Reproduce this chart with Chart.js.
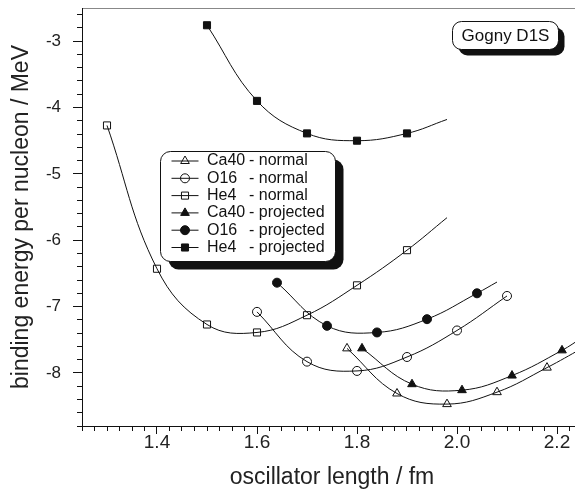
<!DOCTYPE html>
<html>
<head>
<meta charset="utf-8">
<script src="https://cdn.jsdelivr.net/npm/chart.js@4/dist/chart.umd.min.js"></script>
<style>
  html, body { margin: 0; padding: 0; background: #fff; overflow: hidden; }
  canvas { display: block; }
</style>
</head>
<body>
<canvas id="myChart" width="600" height="493"></canvas>
<script>
// oscillator length (fm) and binding energy per nucleon (MeV)
const ca40NormX = [1.78, 1.88, 1.98, 2.08, 2.18];
const ca40NormE = [-7.63, -8.31, -8.47, -8.29, -7.92];
const o16NormX = [1.6, 1.7, 1.8, 1.9, 2.0, 2.1];
const o16NormE = [-7.08, -7.83, -7.97, -7.76, -7.36, -6.84];
const he4NormX = [1.3, 1.4, 1.5, 1.6, 1.7, 1.8, 1.9];
const he4NormE = [-4.27, -6.43, -7.27, -7.39, -7.13, -6.68, -6.15];
const ca40ProjX = [1.81, 1.91, 2.01, 2.11, 2.21];
const ca40ProjE = [-7.63, -8.17, -8.26, -8.04, -7.66];
const o16ProjX = [1.64, 1.74, 1.84, 1.94, 2.04];
const o16ProjE = [-6.64, -7.29, -7.39, -7.19, -6.80];
const he4ProjX = [1.5, 1.6, 1.7, 1.8, 1.9];
const he4ProjE = [-2.76, -3.90, -4.39, -4.50, -4.39];

// where the fitted curves stop past the last marker [x, E] (null = stops at marker)
const ca40NormEnd = [2.25, -7.63];
const o16NormEnd = null;
const he4NormEnd = [1.98, -5.66];
const ca40ProjEnd = [2.25, -7.47];
const o16ProjEnd = [2.08, -6.63];
const he4ProjEnd = [1.98, -4.18];

const seriesLabels = [
  "Ca40 - normal", "O16 - normal", "He4 - normal",
  "Ca40 - projected", "O16 - projected", "He4 - projected"
];

const xMajorTicks = [1.4, 1.6, 1.8, 2.0, 2.2];
const yMajorTicks = [-8, -7, -6, -5, -4, -3];
const xMin = 1.25, xMax = 2.25, yMin = -8.8, yMax = -2.5;

const FONT = '"Liberation Sans", Arial, Helvetica, sans-serif';
Chart.defaults.font.family = FONT;
Chart.defaults.color = "#222";

function makeData(xs, es, end) {
  let pts = xs.map((x, i) => ({ x: x, y: es[i] }));
  if (end) pts.push({ x: end[0], y: end[1] });
  return pts;
}

function makeSet(label, xs, es, end, style, radius, filled) {
  let radii = xs.map(() => radius);
  if (end) radii.push(0);
  return {
    label: label,
    data: makeData(xs, es, end),
    borderColor: "#111",
    borderWidth: 1,
    backgroundColor: filled ? "#111" : "rgba(0,0,0,0)",
    pointStyle: style,
    pointRadius: radii,
    pointBorderWidth: 1,
    pointBorderColor: "#111",
    pointBackgroundColor: filled ? "#111" : "rgba(0,0,0,0)",
    tension: 0.4,
    fill: false,
  };
}

const datasets = [
  makeSet(seriesLabels[0], ca40NormX, ca40NormE, ca40NormEnd, "triangle", 5, false),
  makeSet(seriesLabels[1], o16NormX, o16NormE, o16NormEnd, "circle", 4.5, false),
  makeSet(seriesLabels[2], he4NormX, he4NormE, he4NormEnd, "rect", 5, false),
  makeSet(seriesLabels[3], ca40ProjX, ca40ProjE, ca40ProjEnd, "triangle", 5, true),
  makeSet(seriesLabels[4], o16ProjX, o16ProjE, o16ProjEnd, "circle", 4.5, true),
  makeSet(seriesLabels[5], he4ProjX, he4ProjE, he4ProjEnd, "rect", 5, true),
];

function minorTicks(from, step, count) {
  let out = [];
  for (let i = 0; i <= count; i++) {
    out.push({ value: Math.round((from + i * step) * 1000) / 1000 });
  }
  return out;
}

// no extra room for end labels, the frame is fixed by hand
function fixSize(s, w, h) {
  if (w !== null) s.width = w;
  if (h !== null) s.height = h;
  s.paddingTop = 0;
  s.paddingBottom = 0;
  s.paddingLeft = 0;
  s.paddingRight = 0;
}

// draw a marker like chart.js does, for the legend box
function marker(ctx, style, r, x, y, filled) {
  ctx.save();
  ctx.beginPath();
  if (style === "circle") {
    ctx.arc(x, y, r, 0, Math.PI * 2);
  } else if (style === "rect") {
    let s = Math.SQRT1_2 * r;
    ctx.rect(x - s, y - s, 2 * s, 2 * s);
  } else {
    let a = 0;
    ctx.moveTo(x + Math.sin(a) * r, y - Math.cos(a) * r);
    a += (2 * Math.PI) / 3;
    ctx.lineTo(x + Math.sin(a) * r, y - Math.cos(a) * r);
    a += (2 * Math.PI) / 3;
    ctx.lineTo(x + Math.sin(a) * r, y - Math.cos(a) * r);
    ctx.closePath();
  }
  if (filled) {
    ctx.fillStyle = "#111";
    ctx.fill();
  }
  ctx.lineWidth = 1;
  ctx.strokeStyle = "#111";
  ctx.stroke();
  ctx.restore();
}

function roundBox(ctx, x, y, w, h, r) {
  ctx.beginPath();
  ctx.moveTo(x + r, y);
  ctx.lineTo(x + w - r, y);
  ctx.arcTo(x + w, y, x + w, y + r, r);
  ctx.lineTo(x + w, y + h - r);
  ctx.arcTo(x + w, y + h, x + w - r, y + h, r);
  ctx.lineTo(x + r, y + h);
  ctx.arcTo(x, y + h, x, y + h - r, r);
  ctx.lineTo(x, y + r);
  ctx.arcTo(x, y, x + r, y, r);
  ctx.closePath();
}

function shadowBox(ctx, x, y, w, h, r, off) {
  ctx.save();
  roundBox(ctx, x + off, y + off, w, h, r);
  ctx.fillStyle = "#111";
  ctx.fill();
  roundBox(ctx, x, y, w, h, r);
  ctx.fillStyle = "#fff";
  ctx.fill();
  ctx.lineWidth = 1;
  ctx.strokeStyle = "#111";
  ctx.stroke();
  ctx.restore();
}

const boxes = {
  id: "boxes",
  afterDraw(chart) {
    const ctx = chart.ctx;
    // legend
    shadowBox(ctx, 160.5, 151.5, 175, 110, 10, 8);
    ctx.save();
    ctx.font = "16px " + FONT;
    ctx.fillStyle = "#111";
    ctx.textBaseline = "middle";
    chart.data.datasets.forEach((ds, i) => {
      const y = 161 + i * 17.3;
      ctx.beginPath();
      ctx.moveTo(171.5, y);
      ctx.lineTo(198.5, y);
      ctx.lineWidth = 1;
      ctx.strokeStyle = "#111";
      ctx.stroke();
      marker(ctx, ds.pointStyle, ds.pointRadius[0], 185, y, ds.pointBackgroundColor === "#111");
      const parts = ds.label.split(" - ");
      ctx.fillText(parts[0], 207, y);
      ctx.fillText("- " + parts[1], 249, y);
    });
    ctx.restore();

    // model name
    shadowBox(ctx, 452.5, 21.5, 106, 28, 9, 6);
    ctx.save();
    ctx.font = "17px " + FONT;
    ctx.fillStyle = "#111";
    ctx.textAlign = "center";
    ctx.textBaseline = "middle";
    ctx.fillText("Gogny D1S", 505.5, 36);
    ctx.restore();
  },
};

const ctx = document.getElementById("myChart");
new Chart(ctx, {
  type: "line",
  data: { datasets: datasets },
  options: {
    responsive: false,
    animation: false,
    devicePixelRatio: 1,
    layout: { padding: { top: 8, right: 18, left: 0, bottom: 0 } },
    plugins: { legend: { display: false }, tooltip: { enabled: false } },
    scales: {
      x: {
        type: "linear",
        position: "bottom",
        weight: 1,
        min: xMin,
        max: xMax,
        afterBuildTicks: (s) => { s.ticks = xMajorTicks.map((v) => ({ value: v })); },
        afterFit: (s) => fixSize(s, null, 67),
        grid: { drawOnChartArea: false, tickLength: 8, color: "#111" },
        border: { color: "#111", width: 1 },
        ticks: {
          font: { size: 19 },
          color: "#222",
          padding: -3,
          maxRotation: 0,
          callback: (v) => v.toFixed(1),
        },
        title: {
          display: true,
          text: "oscillator length / fm",
          font: { size: 23 },
          color: "#222",
          padding: { top: 0, bottom: 2 },
        },
      },
      xMinor: {
        type: "linear",
        position: "bottom",
        weight: 0,
        min: xMin,
        max: xMax,
        afterBuildTicks: (s) => { s.ticks = minorTicks(xMin, 0.025, 40); },
        afterFit: (s) => fixSize(s, null, 0),
        grid: { drawOnChartArea: false, tickLength: 5, color: "#111" },
        border: { display: false },
        ticks: { display: false },
      },
      xTop: {
        type: "linear",
        position: "top",
        min: xMin,
        max: xMax,
        afterFit: (s) => fixSize(s, null, 0),
        grid: { display: false },
        border: { color: "#888", width: 1 },
        ticks: { display: false },
      },
      y: {
        type: "linear",
        position: "left",
        weight: 1,
        min: yMin,
        max: yMax,
        afterBuildTicks: (s) => { s.ticks = yMajorTicks.map((v) => ({ value: v })); },
        afterFit: (s) => fixSize(s, 82, null),
        grid: { drawOnChartArea: false, tickLength: 9, color: "#111" },
        border: { color: "#111", width: 1 },
        ticks: {
          font: { size: 17 },
          color: "#222",
          padding: 12,
          callback: (v) => String(v),
        },
        title: {
          display: true,
          text: "binding energy per nucleon / MeV",
          font: { size: 23 },
          color: "#222",
          padding: { top: 8, bottom: 0 },
        },
      },
      yMinor: {
        type: "linear",
        position: "left",
        weight: 0,
        min: yMin,
        max: yMax,
        afterBuildTicks: (s) => { s.ticks = minorTicks(yMin, 0.2, 31); },
        afterFit: (s) => fixSize(s, 0, null),
        grid: { drawOnChartArea: false, tickLength: 5, color: "#111" },
        border: { display: false },
        ticks: { display: false },
      },
    },
  },
  plugins: [boxes],
});
</script>
</body>
</html>
